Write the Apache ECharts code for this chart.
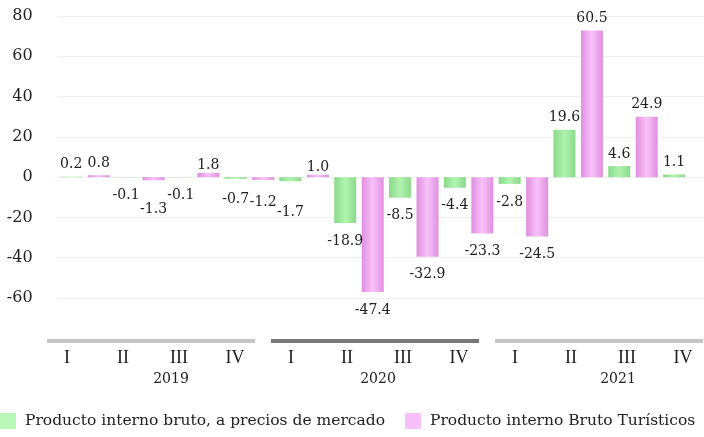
<!DOCTYPE html>
<html>
<head>
<meta charset="utf-8">
<title>PIB y PIB turístico</title>
<script src="https://cdn.jsdelivr.net/npm/echarts@6/dist/echarts.min.js"></script>
<style>
html, body { margin: 0; padding: 0; background: #fff; }
#barChart { width: 704px; height: 437px; }
</style>
</head>
<body>
<div id="barChart"></div>
<script>
// datos
var years = ['2019', '2020', '2021'];
var quarters = ['I', 'II', 'III', 'IV'];
var pib = [0.2, -0.1, -0.1, -0.7, -1.7, -18.9, -8.5, -4.4, -2.8, 19.6, 4.6, 1.1];
var pibTur = [0.8, -1.3, 1.8, -1.2, 1.0, -47.4, -32.9, -23.3, -24.5, 60.5, 24.9, null];
var yTicks = [-60, -40, -20, 0, 20, 40, 60, 80];
var names = ['Producto interno bruto, a precios de mercado', 'Producto interno Bruto Turísticos'];

// el eje del original no cuadra con las barras: cada linea de la rejilla vale 16.63
var yStep = 16.63;
var yMin = -3 * yStep;
var yMax = 4 * yStep;
var font = 'DejaVu Serif';

// desplazamientos de etiquetas que se pisan (px hacia abajo)
var nudgePib = { 3: 3, 4: 13 };
var nudgeTur = { 1: 11, 2: 5, 3: 4, 4: 5 };
// los años no van centrados en el original
var yearShift = [20, 3, 19];

var barChart = function () {
    // categorias
    var cats = [], labels = [];
    years.forEach(function (y) {
        quarters.forEach(function (q) {
            cats.push(y + ' ' + q);
            labels.push(q);
        });
    });

    var grad = function (edge, mid) {
        return new echarts.graphic.LinearGradient(0, 0, 1, 0, [
            { offset: 0, color: edge },
            { offset: 0.5, color: mid },
            { offset: 1, color: edge }
        ]);
    };

    // etiqueta arriba o abajo segun el signo
    var items = function (arr, nudge) {
        return arr.map(function (v, i) {
            if (v === null) return null;
            return {
                value: v,
                label: {
                    position: v < 0 ? 'bottom' : 'top',
                    distance: v < 0 ? 11 : 5,
                    offset: [0, nudge[i] || 0]
                }
            };
        });
    };

    var barLabel = {
        show: true,
        fontFamily: font,
        fontSize: 14,
        color: '#222',
        formatter: function (p) { return p.value.toFixed(1); }
    };

    var myChart = echarts.init(document.getElementById('barChart'));
    var option = {
        animation: false,
        legend: {
            data: [
                { name: names[0], itemStyle: { color: '#b8f7b8' } },
                { name: names[1], itemStyle: { color: '#f8c0f8' } }
            ],
            left: 0,
            bottom: 8,
            padding: 0,
            icon: 'rect',
            itemWidth: 16,
            itemHeight: 16,
            itemGap: 20,
            textStyle: { fontFamily: font, fontSize: 15.5, color: '#222', padding: [0, 0, 0, 4] }
        },
        grid: [
            { left: 57.6, width: 657.6, top: 16, bottom: 139, outerBoundsMode: 'none' },
            { left: 39, width: 672, top: 339, height: 4, outerBoundsMode: 'none' }
        ],
        xAxis: [
            {
                type: 'category', gridIndex: 0, data: cats,
                axisLine: { show: false }, axisTick: { show: false }, axisLabel: { show: false }
            },
            {
                type: 'category', gridIndex: 1, data: labels, position: 'bottom',
                axisLine: { show: false }, axisTick: { show: false },
                axisLabel: { interval: 0, margin: 6, fontFamily: 'Liberation Serif', fontSize: 18, color: '#222' }
            },
            {
                type: 'category', gridIndex: 1, position: 'bottom', offset: 22,
                data: years.map(function (y, i) {
                    return { value: y, textStyle: { padding: [0, 0, 0, 2 * yearShift[i]] } };
                }),
                axisLine: { show: false }, axisTick: { show: false },
                axisLabel: { margin: 7, fontFamily: font, fontSize: 14, color: '#222' }
            }
        ],
        yAxis: [
            {
                type: 'value', gridIndex: 0,
                min: yMin, max: yMax, interval: yStep,
                axisLine: { show: false }, axisTick: { show: false },
                splitLine: { lineStyle: { color: '#eeeeee' } },
                axisLabel: {
                    margin: 25, fontFamily: font, fontSize: 16, color: '#222',
                    formatter: function (v) { return yTicks[Math.round((v - yMin) / yStep)]; }
                }
            },
            { type: 'value', gridIndex: 1, min: 0, max: 1, show: false }
        ],
        series: [
            {
                name: names[0], type: 'bar', xAxisIndex: 0, yAxisIndex: 0,
                barWidth: 22, barGap: '25%',
                itemStyle: { color: grad('#8cd98c', '#b0f3b0') },
                label: barLabel,
                data: items(pib, nudgePib)
            },
            {
                name: names[1], type: 'bar', xAxisIndex: 0, yAxisIndex: 0,
                barWidth: 22, barGap: '25%',
                itemStyle: { color: grad('#e08fe0', '#f8c2f8') },
                label: barLabel,
                data: items(pibTur, nudgeTur)
            },
            {
                // barras grises de cada año
                type: 'bar', xAxisIndex: 2, yAxisIndex: 1, silent: true,
                barWidth: 208,
                data: years.map(function (y, i) {
                    return { value: 1, itemStyle: { color: i === 1 ? '#777777' : '#c6c6c6' } };
                })
            }
        ]
    };
    myChart.setOption(option);
};

barChart();
</script>
</body>
</html>
